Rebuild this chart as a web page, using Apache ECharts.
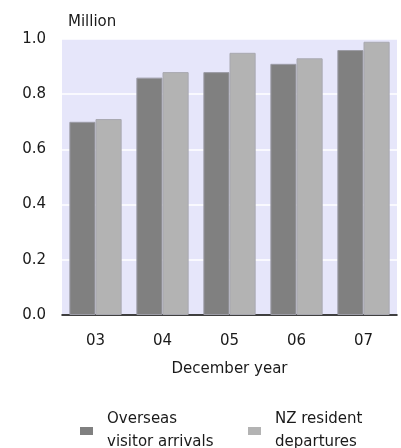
<!DOCTYPE html>
<html>
<head>
<meta charset="utf-8">
<script src="https://cdn.jsdelivr.net/npm/echarts@6/dist/echarts.min.js"></script>
<style>
html,body{margin:0;padding:0;background:#fff;}
#c{width:401px;height:448px;}
</style>
</head>
<body>
<div id="c"></div>
<script>
var categories = ['03', '04', '05', '06', '07'];
var visitorArrivals = [0.70, 0.86, 0.88, 0.91, 0.96];
var residentDepartures = [0.71, 0.88, 0.95, 0.93, 0.99];
var yTicks = [0, 0.2, 0.4, 0.6, 0.8, 1.0];
var seriesNames = ['Overseas\nvisitor arrivals', 'NZ resident\ndepartures'];

var FONT = '"DejaVu Sans", Verdana, sans-serif';
var chart = echarts.init(document.getElementById('c'), null, {renderer: 'canvas'});
var legendBase = {itemWidth: 13, itemHeight: 8, icon: 'rect', top: 403,
  itemStyle: {borderWidth: 0},
  textStyle: {fontFamily: FONT, fontSize: 15, color: '#1a1a1a', lineHeight: 23, padding: [0, 0, 0, 9]}};
chart.setOption({
  animation: false,
  backgroundColor: '#ffffff',
  textStyle: {fontFamily: FONT, color: '#1a1a1a'},
  grid: {left: 62, right: 4, top: 39, bottom: 133, show: true, backgroundColor: '#e6e6fa', borderWidth: 0},
  legend: [
    Object.assign({data: [seriesNames[0]], left: 75}, legendBase),
    Object.assign({data: [seriesNames[1]], left: 243}, legendBase)
  ],
  xAxis: {
    type: 'category',
    data: categories,
    name: 'December year',
    nameLocation: 'middle',
    nameGap: 47,
    nameTextStyle: {fontFamily: FONT, fontSize: 15, color: '#1a1a1a'},
    axisLine: {lineStyle: {color: '#000', width: 1.5}},
    axisTick: {show: false},
    axisLabel: {fontFamily: FONT, fontSize: 15, color: '#1a1a1a', margin: 19}
  },
  yAxis: {
    type: 'value',
    min: yTicks[0],
    max: yTicks[yTicks.length - 1],
    interval: 0.2,
    name: 'Million',
    nameLocation: 'end',
    nameGap: 9,
    nameTextStyle: {fontFamily: FONT, fontSize: 15, color: '#1a1a1a', align: 'left', padding: [0, 0, 0, 6]},
    axisLine: {show: false},
    axisTick: {show: false},
    axisLabel: {fontFamily: FONT, fontSize: 15, color: '#1a1a1a', margin: 16,
      formatter: function (v) { return v.toFixed(1); }},
    splitLine: {lineStyle: {color: '#ffffff', width: 1.5}}
  },
  series: [
    {name: seriesNames[0], type: 'bar', data: visitorArrivals, barGap: '0%', barCategoryGap: '22%',
     itemStyle: {color: '#808080', borderColor: '#9c9ca6', borderWidth: 1}},
    {name: seriesNames[1], type: 'bar', data: residentDepartures, barGap: '0%', barCategoryGap: '22%',
     itemStyle: {color: '#b3b3b3', borderColor: '#a8a8b0', borderWidth: 1}}
  ]
});
</script>
</body>
</html>
